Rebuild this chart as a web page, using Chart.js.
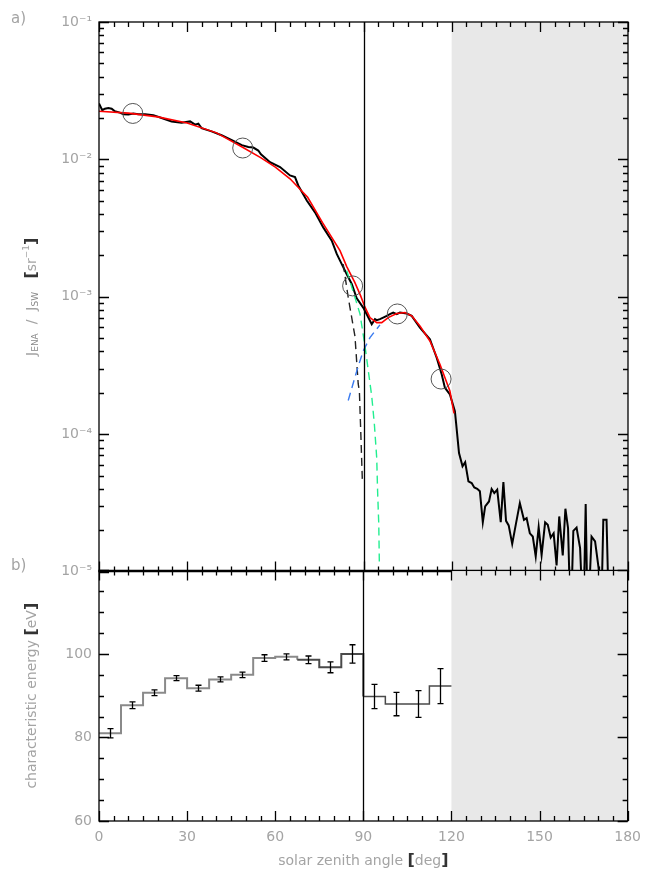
<!DOCTYPE html>
<html>
<head>
<meta charset="utf-8">
<script src="https://cdn.jsdelivr.net/npm/chart.js@4.4.1/dist/chart.umd.min.js"></script>
<style>
  body { margin: 0; background: #fff; }
  #wrap { position: relative; width: 645px; height: 871px; overflow: hidden; }
  canvas { position: absolute; left: 0; }
  #topChart { top: 0; }
  #bottomChart { top: 555px; }
</style>
</head>
<body>
<div id="wrap">
  <canvas id="topChart" width="645" height="587"></canvas>
  <canvas id="bottomChart" width="649" height="316"></canvas>
</div>
<script>
// ---- panel a) : J_ENA / J_SW against solar zenith angle
const angles = [
  0, 1.1, 2.0, 3.2, 4.3, 5.4, 7.1, 8.3, 10.0, 11.7, 13.4, 15.7, 18.5, 21.3, 24.7,
  28.1, 31.0, 32.7, 33.8, 34.9, 38.3, 41.7, 45.2, 48.6, 50.8, 52.5, 54.2, 55.1, 58.2,
  61.6, 65.0, 66.7, 67.8, 70.7, 73.5, 76.3, 79.2, 80.9, 82.6, 84.3, 86.0, 87.7, 89.9,
  91.1, 92.8, 93.9, 94.5, 95.6, 96.7, 97.9, 99.0, 100.1, 101.3, 102.4, 104.7, 106.4,
  109.2, 112.6, 114.9, 116.6, 117.7, 119.4, 121.1, 121.5, 122.5, 123.7, 124.6, 125.7,
  126.8, 127.7, 128.7, 129.6, 130.6, 131.4, 132.7, 133.6, 134.5, 135.5, 136.7, 137.6,
  138.5, 139.4, 140.6, 141.8, 143.2, 144.6, 145.5, 146.6, 147.6, 148.6, 149.6, 150.6,
  151.8, 152.7, 153.7, 154.7, 155.7, 156.6, 157.8, 158.7, 159.6, 160.5, 161.4, 162.5,
  163.7, 164.8, 165.6, 166.3, 167.6, 168.8, 170.0, 170.8, 171.6, 172.7, 173.6
];
const ratios = [
  0.0255, 0.0228, 0.0234, 0.0237, 0.0234, 0.0224, 0.0219, 0.0213, 0.0212, 0.0216, 0.0213,
  0.0213, 0.0210, 0.0200, 0.0189, 0.0185, 0.0189, 0.0179, 0.0182, 0.0169, 0.0160, 0.0150,
  0.0138, 0.0127, 0.0123, 0.0122, 0.0116, 0.0109, 0.00955, 0.00879, 0.00764, 0.00743,
  0.00646, 0.00502, 0.00412, 0.00320, 0.00256, 0.00205, 0.00173, 0.00146, 0.00124,
  0.000975, 0.000835, 0.000747, 0.000632, 0.000688, 0.000676, 0.000688, 0.000706,
  0.000726, 0.000747, 0.000768, 0.000747, 0.000768, 0.000755, 0.000726, 0.000597,
  0.000491, 0.000360, 0.000273, 0.000218, 0.000195, 0.000147, 0.000121, 7.30e-5,
  5.84e-5, 6.25e-5, 4.54e-5, 4.41e-5, 4.10e-5, 4.01e-5, 3.84e-5, 2.29e-5, 2.98e-5,
  3.24e-5, 3.99e-5, 3.73e-5, 3.95e-5, 2.29e-5, 4.49e-5, 2.34e-5, 2.17e-5, 1.59e-5,
  2.19e-5, 3.15e-5, 2.38e-5, 2.45e-5, 1.90e-5, 1.80e-5, 1.29e-5, 2.10e-5, 1.32e-5,
  2.28e-5, 2.19e-5, 1.77e-5, 1.90e-5, 1.11e-5, 2.52e-5, 1.31e-5, 2.87e-5, 2.07e-5,
  4e-6, 1.98e-5, 2.09e-5, 1.48e-5, 4e-6, 3.10e-5, 4e-6, 1.80e-5, 1.66e-5, 1.06e-5,
  4e-6, 2.38e-5, 2.38e-5, 4e-6
];

// fitted model (red)
const fitAngles = [0, 10, 20, 30, 40, 49, 55, 60, 65, 71, 76, 82, 84.3, 87, 89, 90.5,
  92.2, 94.5, 96.2, 98.4, 101.3, 104.1, 106.4, 109.2, 112.6, 116, 119.4, 120.8];
const fitRatios = [0.0224, 0.0217, 0.0204, 0.0184, 0.0156, 0.0122, 0.0103, 0.0088,
  0.00723, 0.0053, 0.00348, 0.00217, 0.00166, 0.00128, 0.00102, 0.00084, 0.000706,
  0.000649, 0.000649, 0.000706, 0.000755, 0.000768, 0.000727, 0.000614, 0.000477,
  0.000323, 0.000206, 0.000142];

// dashed model components
const dashBlackAngles = [83.1, 84.8, 87.1, 88.2, 88.6, 89.1, 89.6];
const dashBlackRatios = [0.00173, 0.00099, 0.000515, 0.000232, 0.000206, 9.95e-5, 4.67e-5];
const dashGreenAngles = [84.3, 88.8, 90.5, 92.8, 93.7, 94.5, 94.8, 95.2, 95.4];
const dashGreenRatios = [0.00155, 0.000751, 0.000439, 0.000189, 0.000118, 6.71e-5, 3.84e-5, 2.19e-5, 1.12e-5];
const dashBlueAngles = [84.8, 87.7, 89.9, 92.2, 95.6];
const dashBlueRatios = [0.000176, 0.000288, 0.000404, 0.000505, 0.000625];

// circled reference points
const circleAngles = [11.5, 48.9, 86.3, 101.5, 116.4];
const circleRatios = [0.0216, 0.0121, 0.0012, 0.00075, 0.000252];

// ---- panel b) : characteristic energy, 7.5 deg bins
const binEdges = [0, 7.5, 15, 22.5, 30, 37.5, 45, 52.5, 60, 67.5, 75, 82.5, 90, 97.5, 105, 112.5, 120];
const energies = [81.0, 87.7, 90.7, 94.2, 91.8, 93.9, 95.0, 99.0, 99.3, 98.6, 96.8, 100.0, 89.8, 88.0, 88.0, 92.3];
const energyErrors = [1.1, 0.8, 0.7, 0.6, 0.7, 0.6, 0.65, 0.8, 0.7, 0.9, 1.3, 2.2, 2.9, 2.8, 3.2, 4.2];

const logTicks = [1e-5, 1e-4, 1e-3, 1e-2, 1e-1];
const energyTicks = [60, 80, 100, 120];

const GRAY = "#a4a4a4";
const DARK = "#333";
const FAM = '"DejaVu Sans"';

function pts(xs, ys) {
  return xs.map(function(x, i) { return { x: x, y: ys[i] }; });
}

const supMap = { "-": "⁻", "0": "⁰", "1": "¹", "2": "²", "3": "³", "4": "⁴", "5": "⁵" };
function powLabel(v) {
  let e = String(Math.round(Math.log10(v)));
  return "10" + e.split("").map(function(c) { return supMap[c]; }).join("");
}

function richText(ctx, parts, cx, cy, vertical) {
  ctx.save();
  ctx.translate(cx, cy);
  if (vertical) ctx.rotate(-Math.PI / 2);
  ctx.textBaseline = "middle";
  ctx.textAlign = "left";
  let total = 0;
  parts.forEach(function(p) { ctx.font = p[1]; total += ctx.measureText(p[0]).width; });
  let x = -total / 2;
  parts.forEach(function(p) {
    ctx.font = p[1];
    ctx.fillStyle = p[2];
    ctx.fillText(p[0], x, p[3] || 0);
    x += ctx.measureText(p[0]).width;
  });
  ctx.restore();
}

function drawBox(chart, yMajor, yMinor) {
  const ctx = chart.ctx;
  const a = chart.chartArea;
  const x = chart.scales.x;
  const y = chart.scales.y;
  ctx.save();
  ctx.strokeStyle = "#000";
  ctx.lineWidth = 1.3;
  ctx.strokeRect(a.left, a.top, a.right - a.left, a.bottom - a.top);
  ctx.beginPath();
  for (let v = 0; v <= 180; v += 5) {
    let px = Math.round(x.getPixelForValue(v)) + 0.5;
    let len = v % 30 === 0 ? 10 : 5;
    ctx.moveTo(px, a.top); ctx.lineTo(px, a.top + len);
    ctx.moveTo(px, a.bottom); ctx.lineTo(px, a.bottom - len);
  }
  yMajor.forEach(function(v) {
    let py = Math.round(y.getPixelForValue(v)) + 0.5;
    ctx.moveTo(a.left, py); ctx.lineTo(a.left + 10, py);
    ctx.moveTo(a.right, py); ctx.lineTo(a.right - 10, py);
  });
  yMinor.forEach(function(v) {
    let py = Math.round(y.getPixelForValue(v)) + 0.5;
    ctx.moveTo(a.left, py); ctx.lineTo(a.left + 5, py);
    ctx.moveTo(a.right, py); ctx.lineTo(a.right - 5, py);
  });
  ctx.stroke();
  ctx.restore();
}

const shadePlugin = {
  id: "shade",
  beforeDatasetsDraw(chart) {
    const a = chart.chartArea;
    const x0 = chart.scales.x.getPixelForValue(120);
    chart.ctx.save();
    chart.ctx.fillStyle = "#e8e8e8";
    chart.ctx.fillRect(x0, a.top, a.right - x0, a.bottom - a.top);
    chart.ctx.restore();
  },
  afterDatasetsDraw(chart) {
    const a = chart.chartArea;
    const ctx = chart.ctx;
    const xv = Math.round(chart.scales.x.getPixelForValue(90)) + 0.5;
    ctx.save();
    ctx.strokeStyle = "#000";
    ctx.lineWidth = 1.3;
    ctx.beginPath();
    ctx.moveTo(xv, a.top);
    ctx.lineTo(xv, a.bottom);
    ctx.stroke();
    ctx.restore();
  }
};

let logMinor = [];
for (let e = -5; e <= -2; e++) {
  for (let m = 2; m <= 9; m++) logMinor.push(m * Math.pow(10, e));
}

const topDecor = {
  id: "topDecor",
  afterDraw(chart) {
    const ctx = chart.ctx;
    drawBox(chart, logTicks, logMinor);
    const f14 = "14px " + FAM, f9 = "9px " + FAM, fb = "bold 16px " + FAM;
    richText(ctx, [
      ["J", f14, GRAY], ["ENA", f9, "#888", 4], ["  /  ", f14, GRAY],
      ["J", f14, GRAY], ["SW", f9, "#888", 4], ["   ", f14, GRAY],
      ["[", fb, DARK], ["sr", f14, GRAY], ["−1", f9, GRAY, -5], ["]", fb, DARK]
    ], 32, (chart.chartArea.top + chart.chartArea.bottom) / 2, true);
    ctx.save();
    ctx.font = "15px " + FAM;
    ctx.fillStyle = GRAY;
    ctx.textBaseline = "middle";
    ctx.fillText("a)", 11, 19);
    ctx.fillText("b)", 11, 566);
    ctx.restore();
  }
};

new Chart(document.getElementById("topChart"), {
  type: "line",
  data: {
    datasets: [
      {
        data: pts(circleAngles, circleRatios),
        showLine: false,
        pointRadius: 10,
        pointBorderWidth: 1,
        pointBorderColor: "#555",
        pointBackgroundColor: "rgba(0,0,0,0)"
      },
      {
        data: pts(fitAngles, fitRatios),
        borderColor: "#ff0000",
        borderWidth: 1.6,
        pointRadius: 0
      },
      {
        data: pts(dashBlueAngles, dashBlueRatios),
        borderColor: "#3a7bf0",
        borderWidth: 1.4,
        borderDash: [8, 5],
        pointRadius: 0
      },
      {
        data: pts(dashGreenAngles, dashGreenRatios),
        borderColor: "#22ee90",
        borderWidth: 1.4,
        borderDash: [8, 5],
        pointRadius: 0
      },
      {
        data: pts(dashBlackAngles, dashBlackRatios),
        borderColor: "#222",
        borderWidth: 1.4,
        borderDash: [8, 5],
        pointRadius: 0
      },
      {
        data: pts(angles, ratios),
        borderColor: "#000",
        borderWidth: 2,
        pointRadius: 0
      }
    ]
  },
  options: {
    responsive: false,
    animation: false,
    layout: { padding: { left: 0, right: 17, top: 22, bottom: 10 } },
    plugins: { legend: { display: false }, tooltip: { enabled: false } },
    scales: {
      x: { type: "linear", min: 0, max: 180, display: false },
      y: {
        type: "logarithmic",
        min: 1e-5,
        max: 1e-1,
        grid: { display: false, drawTicks: false },
        border: { display: false },
        afterBuildTicks: function(s) { s.ticks = logTicks.map(function(v) { return { value: v }; }); },
        afterFit: function(s) { s.width = 99; },
        ticks: {
          color: GRAY,
          padding: 7,
          font: { family: "DejaVu Sans", size: 14 },
          callback: function(v) { return powLabel(v); }
        }
      }
    }
  },
  plugins: [shadePlugin, topDecor]
});

// step line through bin edges, last value repeated at 120
const stepPoints = binEdges.map(function(e, i) {
  return { x: e, y: energies[Math.min(i, energies.length - 1)] };
});

const bottomDecor = {
  id: "bottomDecor",
  afterDatasetsDraw(chart) {
    const ctx = chart.ctx;
    const x = chart.scales.x, y = chart.scales.y;
    ctx.save();
    ctx.strokeStyle = "#000";
    ctx.lineWidth = 1.3;
    ctx.beginPath();
    energies.forEach(function(v, i) {
      let px = Math.round(x.getPixelForValue((binEdges[i] + binEdges[i + 1]) / 2)) + 0.5;
      let y1 = y.getPixelForValue(v - energyErrors[i]);
      let y2 = y.getPixelForValue(v + energyErrors[i]);
      ctx.moveTo(px, y1); ctx.lineTo(px, y2);
      ctx.moveTo(px - 3, y1); ctx.lineTo(px + 3, y1);
      ctx.moveTo(px - 3, y2); ctx.lineTo(px + 3, y2);
    });
    ctx.stroke();
    ctx.restore();
  },
  afterDraw(chart) {
    const ctx = chart.ctx;
    drawBox(chart, energyTicks, [65, 70, 75, 85, 90, 95, 105, 110, 115]);
    const f14 = "14px " + FAM, fb = "bold 16px " + FAM;
    const a = chart.chartArea;
    richText(ctx, [["characteristic energy ", f14, GRAY], ["[", fb, DARK], ["eV", f14, GRAY], ["]", fb, DARK]],
      32, (a.top + a.bottom) / 2, true);
    richText(ctx, [["solar zenith angle ", f14, GRAY], ["[", fb, DARK], ["deg", f14, GRAY], ["]", fb, DARK]],
      (a.left + a.right) / 2, a.bottom + 40, false);
  }
};

new Chart(document.getElementById("bottomChart"), {
  type: "line",
  data: {
    datasets: [
      {
        data: stepPoints,
        stepped: true,
        pointRadius: 0,
        borderColor: "#8a8a8a",
        borderWidth: 2,
        segment: {
          borderColor: function(c) { return c.p0.parsed.x < 67.5 ? "#8a8a8a" : "#4a4a4a"; },
          borderWidth: function(c) { return c.p0.parsed.x < 90 ? 2 : 1.5; }
        }
      }
    ]
  },
  options: {
    responsive: false,
    animation: false,
    layout: { padding: { left: 0, right: 17, top: 10, bottom: 0 } },
    plugins: { legend: { display: false }, tooltip: { enabled: false } },
    scales: {
      x: {
        type: "linear",
        min: 0,
        max: 180,
        grid: { display: false, drawTicks: false },
        border: { display: false },
        afterFit: function(s) { s.height = 50; },
        ticks: {
          stepSize: 30,
          color: GRAY,
          padding: 8,
          font: { family: "DejaVu Sans", size: 14 }
        }
      },
      y: {
        type: "linear",
        min: 60,
        max: 120,
        grid: { display: false, drawTicks: false },
        border: { display: false },
        afterBuildTicks: function(s) { s.ticks = energyTicks.map(function(v) { return { value: v }; }); },
        afterFit: function(s) { s.width = 99; },
        ticks: {
          color: GRAY,
          padding: 7,
          font: { family: "DejaVu Sans", size: 14 },
          callback: function(v) { return v === 120 ? "" : v; }
        }
      }
    }
  },
  plugins: [shadePlugin, bottomDecor]
});
</script>
</body>
</html>
